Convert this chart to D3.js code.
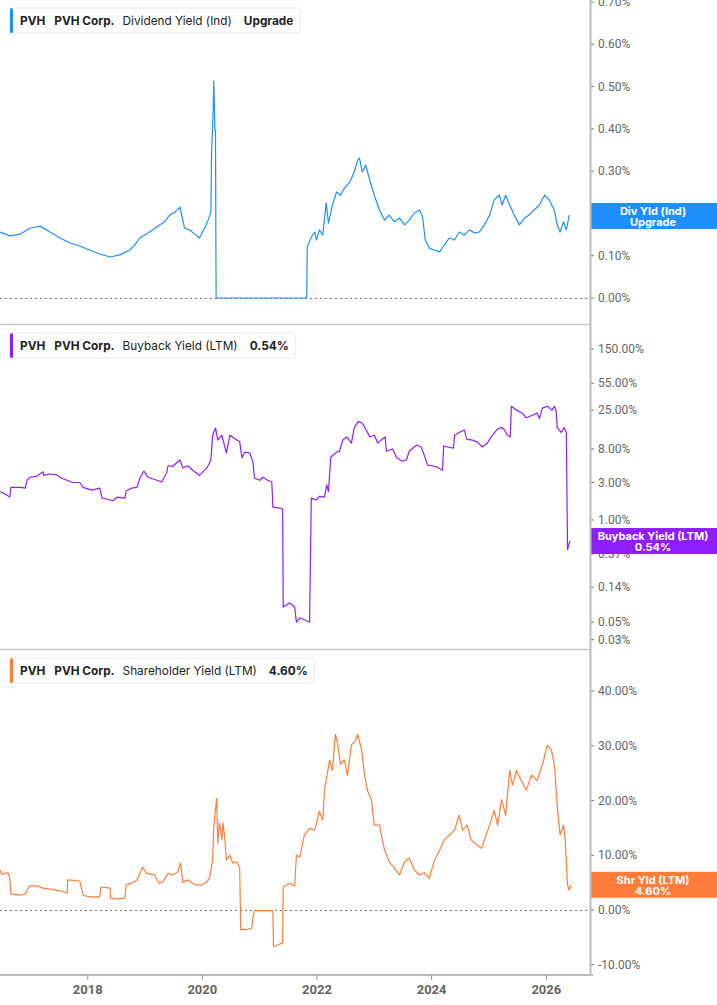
<!DOCTYPE html>
<html>
<head>
<meta charset="utf-8">
<script src="https://cdn.jsdelivr.net/npm/d3@7"></script>
<style>
  body { margin: 0; background: #fff; }
  svg { display: block; }
</style>
</head>
<body>
<div id="chart"></div>
<script>
// data: [decimal year, value %]
var divYield = [
  [2016.47,0.156],[2016.64,0.147],[2016.82,0.151],[2016.99,0.165],[2017.17,0.170],[2017.34,0.156],
  [2017.52,0.142],[2017.69,0.130],[2017.86,0.123],[2018.04,0.113],[2018.21,0.104],[2018.39,0.097],
  [2018.56,0.102],[2018.73,0.113],[2018.82,0.125],[2018.91,0.142],[2019.08,0.156],[2019.26,0.173],
  [2019.34,0.180],[2019.43,0.196],[2019.52,0.203],[2019.61,0.215],[2019.69,0.165],[2019.78,0.161],
  [2019.87,0.151],[2019.95,0.142],[2020.04,0.165],[2020.09,0.180],[2020.15,0.203],[2020.16,0.333],
  [2020.19,0.449],[2020.20,0.513],[2020.22,0.397],[2020.23,0.397],[2020.24,0],[2021.82,0],
  [2021.83,0.121],[2021.90,0.144],[2021.96,0.156],[2021.99,0.137],[2022.04,0.161],[2022.10,0.149],
  [2022.16,0.225],[2022.20,0.177],[2022.27,0.220],[2022.34,0.251],[2022.41,0.243],[2022.48,0.260],
  [2022.57,0.274],[2022.65,0.298],[2022.71,0.326],[2022.74,0.331],[2022.79,0.298],[2022.85,0.314],
  [2022.92,0.279],[2023.00,0.243],[2023.09,0.208],[2023.18,0.184],[2023.26,0.196],[2023.35,0.180],
  [2023.44,0.189],[2023.53,0.173],[2023.61,0.184],[2023.70,0.201],[2023.79,0.208],[2023.84,0.194],
  [2023.89,0.137],[2023.96,0.118],[2024.05,0.113],[2024.14,0.109],[2024.22,0.125],[2024.31,0.142],
  [2024.40,0.137],[2024.48,0.156],[2024.57,0.149],[2024.66,0.161],[2024.75,0.154],[2024.83,0.156],
  [2024.92,0.173],[2025.01,0.196],[2025.09,0.232],[2025.18,0.243],[2025.23,0.220],[2025.29,0.243],
  [2025.36,0.220],[2025.44,0.196],[2025.53,0.173],[2025.62,0.189],[2025.70,0.196],[2025.79,0.208],
  [2025.88,0.220],[2025.97,0.243],[2026.05,0.232],[2026.14,0.208],[2026.19,0.173],[2026.24,0.156],
  [2026.30,0.180],[2026.35,0.161],[2026.40,0.196]
]

var buybackYield = [
  [2016.47,2.29],[2016.53,2.2],[2016.64,1.96],[2016.66,2.6],[2016.82,2.6],[2016.91,2.55],[2016.94,3.2],
  [2016.99,3.5],[2017.11,3.6],[2017.22,4.1],[2017.23,3.7],[2017.34,3.85],[2017.46,3.75],[2017.55,3.4],
  [2017.64,3.2],[2017.74,3.0],[2017.86,3.0],[2017.92,2.6],[2018.07,2.4],[2018.21,2.55],[2018.25,1.9],
  [2018.33,1.85],[2018.44,1.76],[2018.51,1.95],[2018.65,1.9],[2018.67,2.34],[2018.77,2.55],[2018.86,2.6],
  [2018.91,3.4],[2018.98,4.2],[2019.05,3.5],[2019.21,3.2],[2019.29,3.05],[2019.38,4.0],[2019.40,4.9],
  [2019.48,4.8],[2019.61,5.8],[2019.66,4.6],[2019.75,4.9],[2019.83,4.3],[2019.95,3.7],[2020.08,4.6],
  [2020.15,5.8],[2020.18,12],[2020.23,14.8],[2020.27,10.4],[2020.34,12],[2020.42,7.1],[2020.48,12],
  [2020.60,10.4],[2020.65,10],[2020.69,6.2],[2020.74,7.3],[2020.83,7.1],[2020.88,5.5],[2020.91,3.4],
  [2021.00,3.2],[2021.05,3.5],[2021.14,3.2],[2021.21,3.05],[2021.23,1.46],[2021.35,1.42],[2021.40,1.38],
  [2021.41,0.078],[2021.52,0.088],[2021.61,0.078],[2021.64,0.05],[2021.70,0.057],[2021.87,0.05],
  [2021.90,1.9],[2021.99,1.8],[2022.04,2.0],[2022.13,1.95],[2022.17,2.8],[2022.20,2.3],[2022.24,6.3],
  [2022.34,7.3],[2022.39,7.5],[2022.45,10.4],[2022.52,11.4],[2022.60,9.5],[2022.65,15],[2022.72,18],
  [2022.79,17],[2022.86,14],[2022.92,11.4],[2023.00,12],[2023.06,9.5],[2023.12,10.4],[2023.19,11.4],
  [2023.21,7.5],[2023.32,8.0],[2023.39,6.2],[2023.49,5.6],[2023.56,5.8],[2023.61,7.5],[2023.74,9.0],
  [2023.82,8.5],[2023.87,6.7],[2023.93,5.0],[2024.01,4.9],[2024.10,4.7],[2024.19,4.3],[2024.21,8.7],
  [2024.28,8.5],[2024.38,8.2],[2024.40,12],[2024.48,13],[2024.57,14],[2024.61,10.7],[2024.71,10.4],
  [2024.80,9.8],[2024.88,8.5],[2024.97,9.5],[2025.06,12],[2025.15,14.4],[2025.22,15],[2025.27,14],
  [2025.32,12],[2025.37,11.4],[2025.39,28],[2025.48,25],[2025.58,23],[2025.65,20],[2025.76,21.5],
  [2025.84,23],[2025.88,19.5],[2025.93,26.5],[2026.02,28],[2026.10,25],[2026.14,28],[2026.17,25],
  [2026.19,15],[2026.26,13],[2026.31,15],[2026.35,13],[2026.37,0.42],[2026.40,0.51],[2026.42,0.54]
]

var shareholderYield = [
  [2016.47,7.3],[2016.50,6.5],[2016.61,6.8],[2016.64,5.8],[2016.66,2.9],[2016.82,2.7],[2016.92,3.0],
  [2016.94,3.6],[2016.99,4.4],[2017.11,4.4],[2017.22,4.0],[2017.34,3.8],[2017.48,3.6],[2017.64,3.1],
  [2017.65,5.5],[2017.86,5.3],[2017.92,2.7],[2018.04,2.4],[2018.21,2.4],[2018.23,4.2],[2018.39,4.0],
  [2018.40,2.2],[2018.51,2.0],[2018.65,2.2],[2018.67,4.6],[2018.77,4.9],[2018.86,5.5],[2018.91,6.7],
  [2018.96,7.8],[2019.03,6.7],[2019.17,6.4],[2019.24,4.9],[2019.31,5.1],[2019.40,6.7],[2019.48,6.4],
  [2019.57,6.9],[2019.62,8.6],[2019.66,5.1],[2019.75,5.5],[2019.87,4.6],[2019.99,4.6],[2020.08,5.1],
  [2020.13,6.0],[2020.18,9.1],[2020.20,15.1],[2020.25,20.4],[2020.27,12.2],[2020.30,15.9],[2020.34,12.8],
  [2020.36,15.9],[2020.39,13.3],[2020.42,9.1],[2020.48,10],[2020.53,8.6],[2020.60,8.8],[2020.65,7.8],
  [2020.67,-3.6],[2020.77,-3.6],[2020.86,-3.3],[2020.89,-0.9],[2020.91,-0.1],[2021.23,-0.1],[2021.24,-6.7],
  [2021.31,-6.4],[2021.40,-6.0],[2021.41,4.2],[2021.52,4.9],[2021.61,4.4],[2021.64,10],[2021.70,9.7],
  [2021.78,13.7],[2021.87,14.9],[2021.96,14.6],[2022.04,18],[2022.10,16.4],[2022.13,21.9],[2022.22,27.4],
  [2022.27,25.5],[2022.32,32.1],[2022.36,30.3],[2022.41,26.6],[2022.48,27.4],[2022.53,24.6],[2022.60,30.1],
  [2022.67,31.0],[2022.71,32.1],[2022.78,29.2],[2022.83,24.6],[2022.88,21.9],[2022.95,20.1],[2023.00,15.5],
  [2023.09,15.5],[2023.18,10.9],[2023.26,8.8],[2023.35,7.7],[2023.44,6.4],[2023.53,8.8],[2023.61,9.5],
  [2023.70,7.3],[2023.79,6.4],[2023.87,6.8],[2023.96,5.8],[2024.05,9.1],[2024.14,10.9],[2024.22,12.8],
  [2024.31,13.7],[2024.40,14.6],[2024.48,17.3],[2024.54,14.6],[2024.62,15.5],[2024.69,12.8],[2024.78,11.9],
  [2024.87,11.3],[2024.95,13.7],[2025.01,15.5],[2025.09,18.2],[2025.15,15.5],[2025.22,20.1],[2025.29,17.3],
  [2025.36,25.5],[2025.41,22.8],[2025.48,25.5],[2025.56,23.7],[2025.65,21.9],[2025.74,24.6],[2025.84,23.7],
  [2025.93,26.5],[2026.02,30.1],[2026.09,29.2],[2026.14,26.5],[2026.19,19.2],[2026.24,13.7],[2026.30,15.5],
  [2026.33,12.8],[2026.37,4.6],[2026.40,3.6],[2026.43,4.6]
]

var divTicks = [0, 0.1, 0.2, 0.3, 0.4, 0.5, 0.6, 0.7]
var buybackTicks = [150, 55, 25, 8, 3, 1, 0.37, 0.14, 0.05, 0.03]
var shareholderTicks = [-10, 0, 10, 20, 30, 40]

var W = 717, H = 1005
var plotW = 590

function toDate(yr) {
  var y = Math.floor(yr)
  var a = new Date(y, 0, 1), b = new Date(y + 1, 0, 1)
  return new Date(+a + (yr - y) * (b - a))
}

var svg = d3.select("#chart").append("svg")
  .attr("width", W).attr("height", H)

var x = d3.scaleTime()
  .domain([toDate(2016.47), toDate(2026.78)])
  .range([0, plotW + 1])

var pct = function(v){ return v.toFixed(2) + "%" }

var panels = [
  { top: 0, bottom: 324, data: divYield, ticks: divTicks, color: "#1f8fff",
    y: d3.scaleLinear().domain([0, 0.7]).range([298, 2]), zero: true,
    legend: ["Dividend Yield (Ind)", "Upgrade"],
    tag: ["Div Yld (Ind)", "Upgrade"], last: 0.194 },
  { top: 325, bottom: 649, data: buybackYield, ticks: buybackTicks, color: "#8e1eff",
    y: d3.scaleLog().domain([1, 150]).range([520, 349]), zero: false,
    legend: ["Buyback Yield (LTM)", "0.54%"],
    tag: ["Buyback Yield (LTM)", "0.54%"], last: 0.54 },
  { top: 650, bottom: 975, data: shareholderYield, ticks: shareholderTicks, color: "#ff7d3b",
    y: d3.scaleLinear().domain([0, 40]).range([910, 691]), zero: true,
    legend: ["Shareholder Yield (LTM)", "4.60%"],
    tag: ["Shr Yld (LTM)", "4.60%"], last: 4.60 }
]

var defs = svg.append("defs")

panels.forEach(function(p, i) {
  var g = svg.append("g")

  defs.append("clipPath").attr("id", "clip" + i)
    .append("rect").attr("x", 0).attr("y", p.top).attr("width", plotW).attr("height", p.bottom - p.top)

  // separator under panel
  if (i < 2) {
    g.append("line").attr("x1", 0).attr("x2", plotW).attr("y1", p.bottom + 0.5).attr("y2", p.bottom + 0.5)
      .attr("stroke", "#c8c8c8").attr("stroke-width", 1.5)
  }

  // zero line
  if (p.zero) {
    g.append("line").attr("x1", 0).attr("x2", plotW)
      .attr("y1", Math.round(p.y(0)) + 0.5).attr("y2", Math.round(p.y(0)) + 0.5)
      .attr("stroke", "#777").attr("stroke-dasharray", "2,3")
  }

  var line = d3.line()
    .x(function(d){ return x(toDate(d[0])) })
    .y(function(d){ return p.y(d[1]) })

  g.append("path").datum(p.data)
    .attr("clip-path", "url(#clip" + i + ")")
    .attr("fill", "none")
    .attr("stroke", p.color)
    .attr("stroke-width", 1.2)
    .attr("stroke-linejoin", "round")
    .attr("d", line)

  // right axis ticks
  var tk = g.selectAll(".tk").data(p.ticks).enter().append("g")
    .attr("transform", function(d){ return "translate(0," + p.y(d) + ")" })
  tk.append("line").attr("x1", plotW + 1).attr("x2", plotW + 4).attr("stroke", "#777")
  tk.append("text").attr("x", plotW + 8).attr("dy", "0.35em")
    .style("font-family", "Roboto, 'Liberation Sans', sans-serif")
    .style("font-size", "12px").attr("fill", "#666")
    .text(pct)

  // legend box, pieces laid out one after the other
  var lg = g.append("g").attr("transform", "translate(10," + (i == 0 ? 8 : p.top + 8) + ")")
  var box = lg.append("rect").attr("height", 25).attr("rx", 3)
    .attr("fill", "#fff").attr("stroke", "#eaeaea")
  lg.append("rect").attr("width", 3).attr("height", 25).attr("rx", 1.5).attr("fill", p.color)
  var pieces = [["PVH", 700, 9], ["PVH Corp.", 700, 8], [p.legend[0], 400, 12], [p.legend[1], 700, 0]]
  var cx = 10
  pieces.forEach(function(pc) {
    var t = lg.append("text").attr("x", cx).attr("y", 17)
      .style("font-family", "Inter, 'Noto Sans', sans-serif").style("font-size", "11.8px")
      .attr("font-weight", pc[1]).attr("fill", "#222").text(pc[0])
    cx += t.node().getComputedTextLength() + pc[2]
  })
  box.attr("width", cx + 7)

  // value tag on the right axis
  var ty = p.y(p.last)
  var tg = g.append("g").attr("transform", "translate(" + plotW + "," + (ty - 13) + ")")
  tg.append("rect").attr("width", W - plotW).attr("height", 26).attr("fill", p.color)
  var tt = tg.append("text").attr("text-anchor", "middle")
    .style("font-family", "Inter, 'Noto Sans', sans-serif").style("font-size", "11px")
    .attr("font-weight", 700).attr("fill", "#fff")
  tt.append("tspan").attr("x", 63).attr("y", 12).text(p.tag[0])
  tt.append("tspan").attr("x", 63).attr("y", 23).text(p.tag[1])
})

// right axis line
svg.append("line").attr("x1", plotW + 0.5).attr("x2", plotW + 0.5).attr("y1", 0).attr("y2", 976)
  .attr("stroke", "#bbb").attr("stroke-width", 2)

// bottom time axis
var xAxis = svg.append("g").attr("transform", "translate(0,975)")
xAxis.append("line").attr("x1", 0).attr("x2", plotW + 3).attr("stroke", "#bbb").attr("stroke-width", 2)
var yearTicks = x.ticks(d3.timeYear.every(2))
var xt = xAxis.selectAll(".xt").data(yearTicks).enter().append("g")
  .attr("transform", function(d){ return "translate(" + x(d) + ",0)" })
xt.append("line").attr("y1", 0).attr("y2", 5).attr("stroke", "#999")
xt.append("text").attr("y", 19).attr("text-anchor", "middle")
  .style("font-family", "Roboto, 'Liberation Sans', sans-serif").style("font-size", "13px")
  .attr("font-weight", 700).attr("fill", "#666")
  .text(d3.timeFormat("%Y"))
</script>
</body>
</html>
